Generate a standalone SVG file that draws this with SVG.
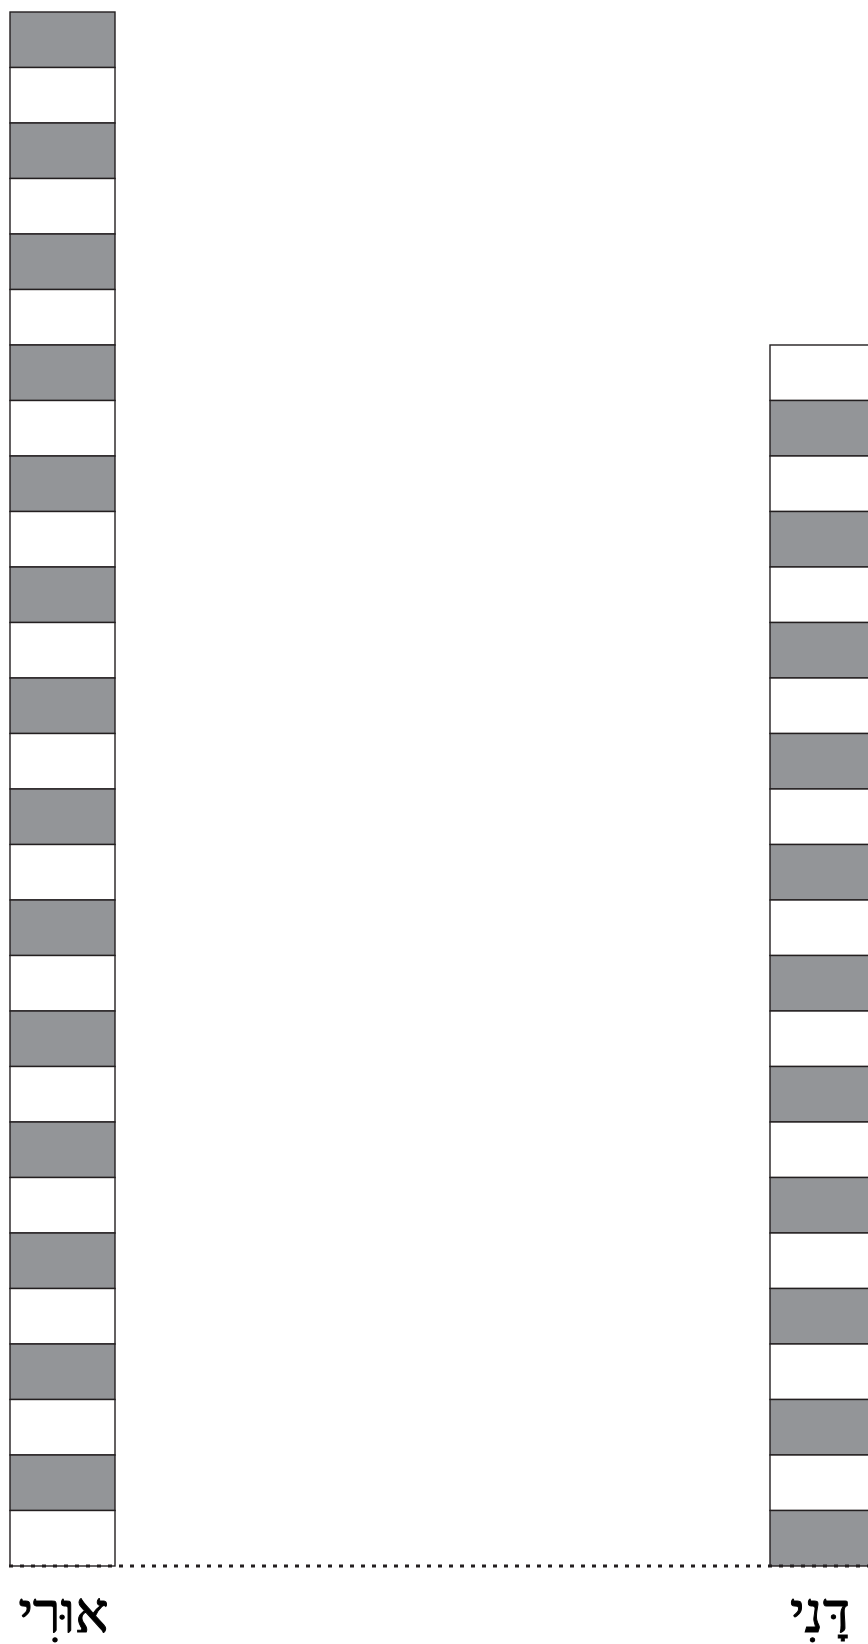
<svg xmlns="http://www.w3.org/2000/svg" width="868" height="1644" viewBox="0 0 868 1644">
<style>
.g{fill:#939598;stroke:#231f20;stroke-width:1.4}
.w{fill:#ffffff;stroke:#231f20;stroke-width:1.4}
.lbl{font-family:"Liberation Serif","DejaVu Serif",serif;font-size:56px;fill:#000;stroke:#000;stroke-width:1;text-anchor:middle}
</style>
<g id="left-column">
<rect class="g" x="10" y="12" width="105" height="55.5"/>
<rect class="w" x="10" y="67.5" width="105" height="55.5"/>
<rect class="g" x="10" y="123" width="105" height="55.5"/>
<rect class="w" x="10" y="178.5" width="105" height="55.5"/>
<rect class="g" x="10" y="234" width="105" height="55.5"/>
<rect class="w" x="10" y="289.5" width="105" height="55.5"/>
<rect class="g" x="10" y="345" width="105" height="55.5"/>
<rect class="w" x="10" y="400.5" width="105" height="55.5"/>
<rect class="g" x="10" y="456" width="105" height="55.5"/>
<rect class="w" x="10" y="511.5" width="105" height="55.5"/>
<rect class="g" x="10" y="567" width="105" height="55.5"/>
<rect class="w" x="10" y="622.5" width="105" height="55.5"/>
<rect class="g" x="10" y="678" width="105" height="55.5"/>
<rect class="w" x="10" y="733.5" width="105" height="55.5"/>
<rect class="g" x="10" y="789" width="105" height="55.5"/>
<rect class="w" x="10" y="844.5" width="105" height="55.5"/>
<rect class="g" x="10" y="900" width="105" height="55.5"/>
<rect class="w" x="10" y="955.5" width="105" height="55.5"/>
<rect class="g" x="10" y="1011" width="105" height="55.5"/>
<rect class="w" x="10" y="1066.5" width="105" height="55.5"/>
<rect class="g" x="10" y="1122" width="105" height="55.5"/>
<rect class="w" x="10" y="1177.5" width="105" height="55.5"/>
<rect class="g" x="10" y="1233" width="105" height="55.5"/>
<rect class="w" x="10" y="1288.5" width="105" height="55.5"/>
<rect class="g" x="10" y="1344" width="105" height="55.5"/>
<rect class="w" x="10" y="1399.5" width="105" height="55.5"/>
<rect class="g" x="10" y="1455" width="105" height="55.5"/>
<rect class="w" x="10" y="1510.5" width="105" height="55.5"/>
</g>
<g id="right-column">
<rect class="w" x="770" y="345" width="110" height="55.5"/>
<rect class="g" x="770" y="400.5" width="110" height="55.5"/>
<rect class="w" x="770" y="456" width="110" height="55.5"/>
<rect class="g" x="770" y="511.5" width="110" height="55.5"/>
<rect class="w" x="770" y="567" width="110" height="55.5"/>
<rect class="g" x="770" y="622.5" width="110" height="55.5"/>
<rect class="w" x="770" y="678" width="110" height="55.5"/>
<rect class="g" x="770" y="733.5" width="110" height="55.5"/>
<rect class="w" x="770" y="789" width="110" height="55.5"/>
<rect class="g" x="770" y="844.5" width="110" height="55.5"/>
<rect class="w" x="770" y="900" width="110" height="55.5"/>
<rect class="g" x="770" y="955.5" width="110" height="55.5"/>
<rect class="w" x="770" y="1011" width="110" height="55.5"/>
<rect class="g" x="770" y="1066.5" width="110" height="55.5"/>
<rect class="w" x="770" y="1122" width="110" height="55.5"/>
<rect class="g" x="770" y="1177.5" width="110" height="55.5"/>
<rect class="w" x="770" y="1233" width="110" height="55.5"/>
<rect class="g" x="770" y="1288.5" width="110" height="55.5"/>
<rect class="w" x="770" y="1344" width="110" height="55.5"/>
<rect class="g" x="770" y="1399.5" width="110" height="55.5"/>
<rect class="w" x="770" y="1455" width="110" height="55.5"/>
<rect class="g" x="770" y="1510.5" width="110" height="55.5"/>
</g>
<g id="connectors">
<line x1="9" y1="1566" x2="868" y2="1566" stroke="#231f20" stroke-width="2.8" stroke-dasharray="4 7"/>
</g>
<g id="labels">
<text class="lbl" x="63.5" y="1632">אוּרִי</text>
<text class="lbl" x="820" y="1632">דָּנִי</text>
</g>
</svg>
